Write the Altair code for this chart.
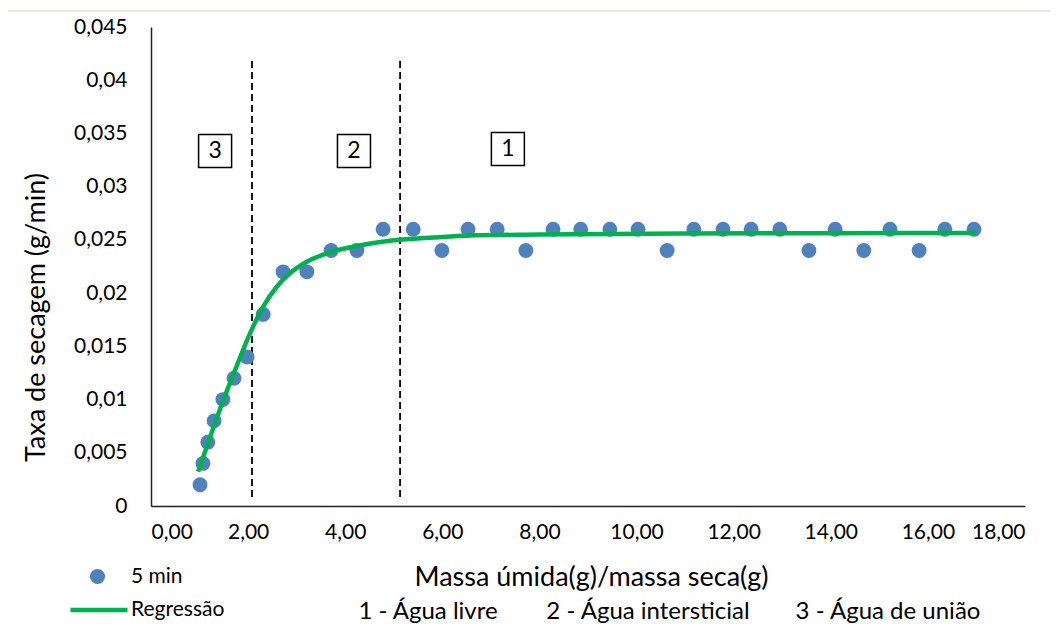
import altair as alt
import pandas as pd

# ---- data ----
x_pts = [1.01, 1.07, 1.17, 1.30, 1.48, 1.71, 1.98, 2.31, 2.72, 3.21, 3.71, 4.24,
         4.78, 5.40, 5.99, 6.53, 7.13, 7.72, 8.28, 8.85, 9.45, 10.03, 10.63, 11.18,
         11.78, 12.36, 12.95, 13.55, 14.09, 14.68, 15.22, 15.82, 16.35, 16.95]
y_pts = [0.002, 0.004, 0.006, 0.008, 0.010, 0.012, 0.014, 0.018, 0.022, 0.022, 0.024, 0.024,
         0.026, 0.026, 0.024, 0.026, 0.026, 0.024, 0.026, 0.026, 0.026, 0.026, 0.024, 0.026,
         0.026, 0.026, 0.026, 0.024, 0.026, 0.024, 0.026, 0.024, 0.026, 0.026]

x_reg = [0.97, 1.22, 1.49, 1.76, 2.04, 2.31, 2.59, 2.86, 3.21, 3.69, 4.24, 4.92,
         5.54, 6.50, 8.00, 11.00, 14.00, 17.00]
y_reg = [0.00322, 0.00651, 0.00996, 0.01309, 0.01622, 0.01872, 0.0206, 0.02186, 0.02295,
         0.02383, 0.02443, 0.02492, 0.02515, 0.0254, 0.0255, 0.0256, 0.02563, 0.02565]

x_div = [2.08, 5.13]
y_div_bottom = [0.00085, 0.00085]
y_div_top = [0.0421, 0.0421]

zone_labels = ["3", "2", "1"]
zone_x = [1.32, 4.18, 7.35]
zone_y = [0.03335, 0.03335, 0.03354]

notes = ["1 - Água livre", "2 - Água intersticial", "3 - Água de união"]

FONT = "Lato"

pts = pd.DataFrame({"x": x_pts, "y": y_pts, "serie": "5 min"})
reg = pd.DataFrame({"x": x_reg, "y": y_reg, "serie": "Regressão"})
div = pd.DataFrame({"x": x_div, "y": y_div_bottom, "y2": y_div_top})
zones = pd.DataFrame({"x": zone_x, "y": zone_y, "t": zone_labels})
one = pd.DataFrame({"k": [0]})

xscale = alt.Scale(domain=[0, 18], nice=False)
yscale = alt.Scale(domain=[0, 0.045], nice=False)

xaxis = alt.Axis(
    values=[0, 2, 4, 6, 8, 10, 12, 14, 16, 18],
    labelExpr="replace(format(datum.value, '.2f'), '.', ',')",
    title="Massa úmida(g)/massa seca(g)",
    titleX=440, titleY=71, titleBaseline="middle", titleAlign="center",
    labelPadding=15,
)
yaxis = alt.Axis(
    values=[0, 0.005, 0.01, 0.015, 0.02, 0.025, 0.03, 0.035, 0.04, 0.045],
    labelExpr="replace(format(datum.value, '~g'), '.', ',')",
    title="Taxa de secagem (g/min)",
    titleX=-115, titleY=290, titleAngle=270, titleBaseline="middle", titleAlign="center",
    labelPadding=24,
)

points = alt.Chart(pts).mark_circle(size=220, opacity=1).encode(
    x=alt.X("x:Q", scale=xscale, axis=xaxis),
    y=alt.Y("y:Q", scale=yscale, axis=yaxis),
    color=alt.Color("serie:N",
                    scale=alt.Scale(domain=["5 min"], range=["#4f81bd"]),
                    legend=alt.Legend(orient="none", legendX=-64, legendY=539, title=None,
                                      symbolType="circle", symbolSize=230, labelFontSize=21,
                                      labelFont=FONT, labelOffset=23, padding=0)),
)

line = alt.Chart(reg).mark_line(strokeWidth=4.5, interpolate="monotone").encode(
    x="x:Q",
    y="y:Q",
    color=alt.Color("serie:N",
                    scale=alt.Scale(domain=["Regressão"], range=["#00b050"]),
                    legend=alt.Legend(orient="none", legendX=-83, legendY=552, title=None,
                                      symbolType="stroke", symbolSize=3249,
                                      symbolStrokeWidth=4.5, labelFontSize=21,
                                      labelFont=FONT, labelOffset=1, padding=0)),
)

dividers = alt.Chart(div).mark_rule(color="black", strokeWidth=1.8, strokeDash=[7, 4]).encode(
    x="x:Q", y="y:Q", y2="y2:Q"
)

boxes = alt.Chart(zones).mark_square(size=1089, filled=False, color="black",
                                     strokeWidth=1.5, opacity=1).encode(x="x:Q", y="y:Q")
box_text = alt.Chart(zones).mark_text(fontSize=23, font=FONT, color="black").encode(
    x="x:Q", y="y:Q", text="t:N"
)

note_marks = [
    alt.Chart(one).mark_text(text=notes[i], fontSize=24, font=FONT, color="black",
                             baseline="middle", align="center").encode(
        x=alt.value(px), y=alt.value(585))
    for i, px in enumerate([277, 497, 737])
]

frame_left = alt.Chart(one).mark_rule(color="#e6e2d6", strokeWidth=1.5).encode(
    x=alt.value(-144), y=alt.value(-16), y2=alt.value(620))
frame_top = alt.Chart(one).mark_rule(color="#e6e2d6", strokeWidth=1.5).encode(
    x=alt.value(-144), x2=alt.value(920), y=alt.value(-16))

chart = alt.layer(
    frame_left, frame_top, dividers, points, line, boxes, box_text, *note_marks
).resolve_scale(color="independent").properties(
    width=874, height=479,
    autosize=alt.AutoSizeParams(type="none"),
    padding={"left": 143, "top": 19, "right": 26, "bottom": 118},
).configure_view(stroke=None).configure_axis(
    grid=False, ticks=False, domainColor="#222222", domainWidth=1.5,
    labelFont=FONT, labelFontSize=21, labelColor="black",
    titleFont=FONT, titleFontSize=27, titleFontWeight="normal", titleColor="black",
).configure_legend(labelColor="black", labelFontSize=21, labelFont=FONT)

chart.save("out.html", embed_options={"renderer": "svg", "actions": False})
